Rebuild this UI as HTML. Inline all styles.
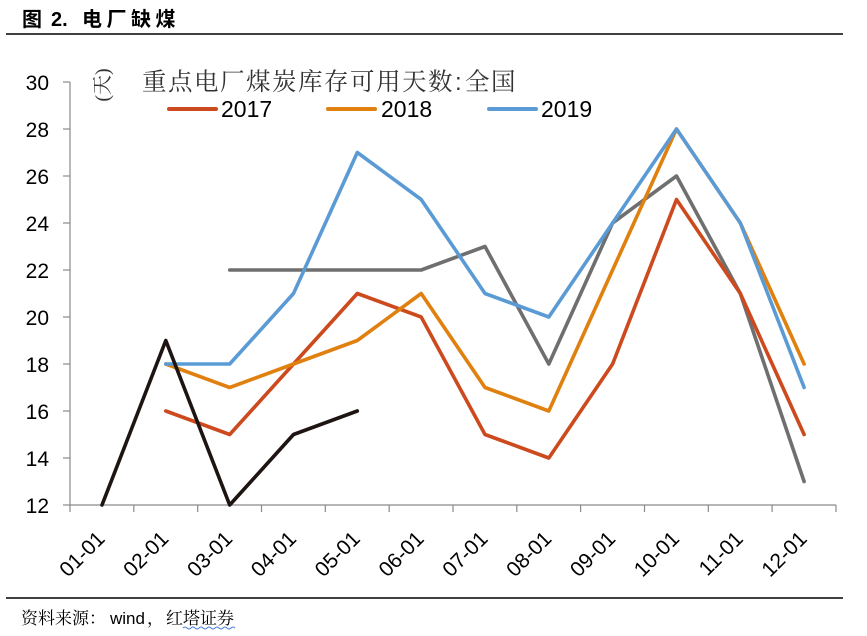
<!DOCTYPE html>
<html><head><meta charset="utf-8"><style>
html,body{margin:0;padding:0;background:#fff;}
svg{display:block;}
</style></head><body>
<svg width="867" height="636" viewBox="0 0 867 636" xmlns="http://www.w3.org/2000/svg">
<rect width="867" height="636" fill="#fff"/>
<!-- header -->
<text x="22" y="26" font-family="'Liberation Sans','Noto Sans CJK SC',sans-serif" font-weight="bold" font-size="20" fill="#000">图</text>
<text x="51" y="26" font-family="'Liberation Sans',sans-serif" font-weight="bold" font-size="20" fill="#000">2.</text>
<text x="82" y="26" font-family="'Liberation Sans','Noto Sans CJK SC',sans-serif" font-weight="bold" font-size="20" letter-spacing="4.5" fill="#000">电厂缺煤</text>
<line x1="6" y1="34" x2="843" y2="34" stroke="#000" stroke-width="1.5"/>

<!-- axes -->
<g stroke="#8a8a8a" stroke-width="1.2" fill="none">
<line x1="70" y1="82" x2="70" y2="505"/>
<line x1="70" y1="505" x2="836" y2="505"/>
<line x1="63" y1="82" x2="70" y2="82"/>
<line x1="63" y1="129" x2="70" y2="129"/>
<line x1="63" y1="176" x2="70" y2="176"/>
<line x1="63" y1="223" x2="70" y2="223"/>
<line x1="63" y1="270" x2="70" y2="270"/>
<line x1="63" y1="317" x2="70" y2="317"/>
<line x1="63" y1="364" x2="70" y2="364"/>
<line x1="63" y1="411" x2="70" y2="411"/>
<line x1="63" y1="458" x2="70" y2="458"/>
<line x1="63" y1="505" x2="70" y2="505"/>
<line x1="70" y1="505" x2="70" y2="512"/>
<line x1="133.8" y1="505" x2="133.8" y2="512"/>
<line x1="197.7" y1="505" x2="197.7" y2="512"/>
<line x1="261.5" y1="505" x2="261.5" y2="512"/>
<line x1="325.3" y1="505" x2="325.3" y2="512"/>
<line x1="389.2" y1="505" x2="389.2" y2="512"/>
<line x1="453" y1="505" x2="453" y2="512"/>
<line x1="516.8" y1="505" x2="516.8" y2="512"/>
<line x1="580.6" y1="505" x2="580.6" y2="512"/>
<line x1="644.5" y1="505" x2="644.5" y2="512"/>
<line x1="708.3" y1="505" x2="708.3" y2="512"/>
<line x1="772.1" y1="505" x2="772.1" y2="512"/>
<line x1="836" y1="505" x2="836" y2="512"/>
</g>

<!-- y labels -->
<g font-family="'Liberation Sans',sans-serif" font-size="21" fill="#000" text-anchor="end">
<text x="49" y="90">30</text>
<text x="49" y="137">28</text>
<text x="49" y="184">26</text>
<text x="49" y="231">24</text>
<text x="49" y="278">22</text>
<text x="49" y="325">20</text>
<text x="49" y="372">18</text>
<text x="49" y="419">16</text>
<text x="49" y="466">14</text>
<text x="49" y="513">12</text>
</g>

<!-- x labels -->
<g font-family="'Liberation Sans',sans-serif" font-size="21" fill="#000" text-anchor="end">
<text transform="translate(106,540) rotate(-45)">01-01</text>
<text transform="translate(169.8,540) rotate(-45)">02-01</text>
<text transform="translate(233.7,540) rotate(-45)">03-01</text>
<text transform="translate(297.5,540) rotate(-45)">04-01</text>
<text transform="translate(361.3,540) rotate(-45)">05-01</text>
<text transform="translate(425.2,540) rotate(-45)">06-01</text>
<text transform="translate(489,540) rotate(-45)">07-01</text>
<text transform="translate(552.8,540) rotate(-45)">08-01</text>
<text transform="translate(616.6,540) rotate(-45)">09-01</text>
<text transform="translate(680.5,540) rotate(-45)">10-01</text>
<text transform="translate(744.3,540) rotate(-45)">11-01</text>
<text transform="translate(808.1,540) rotate(-45)">12-01</text>
</g>

<!-- title / unit -->
<text transform="translate(109,85) rotate(-90)" text-anchor="middle" font-family="'Liberation Serif','Noto Serif CJK SC',serif" font-size="20" fill="#333">(天)</text>
<text x="142" y="90" font-family="'Noto Serif CJK SC','Noto Sans CJK SC',serif" font-size="24.5" letter-spacing="1.5" fill="#333">重点电厂煤炭库存可用天数</text>
<text x="455" y="90" font-family="'Liberation Sans',sans-serif" font-size="24" fill="#333">:</text>
<text x="465" y="90" font-family="'Noto Serif CJK SC','Noto Sans CJK SC',serif" font-size="24.5" letter-spacing="1.5" fill="#333">全国</text>

<!-- legend -->
<g stroke-width="4" stroke-linecap="round">
<line x1="169" y1="109" x2="216" y2="109" stroke="#CC4A1E"/>
<line x1="328" y1="109" x2="375" y2="109" stroke="#E0800F"/>
<line x1="489" y1="109" x2="536" y2="109" stroke="#5B9BD5"/>
</g>
<g font-family="'Liberation Sans',sans-serif" font-size="23" fill="#000">
<text x="221" y="117">2017</text>
<text x="381" y="117">2018</text>
<text x="541" y="117">2019</text>
</g>

<!-- series -->
<g fill="none" stroke-width="3.6" stroke-linejoin="round" stroke-linecap="round">
<polyline stroke="#6F6F6F" points="229.7,270 293.5,270 357.3,270 421.2,270 485,246.5 548.8,364 612.6,223 676.5,176 740.3,293.5 804.1,481.5"/>
<polyline stroke="#CC4A1E" points="165.8,411 229.7,434.5 293.5,364 357.3,293.5 421.2,317 485,434.5 548.8,458 612.6,364 676.5,199.5 740.3,293.5 804.1,434.5"/>
<polyline stroke="#E0800F" points="165.8,364 229.7,387.5 293.5,364 357.3,340.5 421.2,293.5 485,387.5 548.8,411 612.6,270 676.5,129 740.3,223 804.1,364"/>
<polyline stroke="#5B9BD5" points="165.8,364 229.7,364 293.5,293.5 357.3,152.5 421.2,199.5 485,293.5 548.8,317 612.6,223 676.5,129 740.3,223 804.1,387.5"/>
<polyline stroke="#1E1512" points="102,505 165.8,340.5 229.7,505 293.5,434.5 357.3,411"/>
</g>

<!-- footer -->
<line x1="6" y1="598" x2="843" y2="598" stroke="#000" stroke-width="1.5"/>
<text x="21" y="624" font-family="'Noto Serif CJK SC','Noto Sans CJK SC',serif" font-size="17" fill="#000">资料来源：</text>
<text x="110" y="624" font-family="'Liberation Sans',sans-serif" font-size="17" fill="#000">wind</text>
<text x="147" y="624" font-family="'Noto Serif CJK SC','Noto Sans CJK SC',serif" font-size="17" fill="#000">，</text>
<text x="166" y="624" font-family="'Noto Serif CJK SC','Noto Sans CJK SC',serif" font-size="17" fill="#000">红塔证券</text>
<path d="M183,628 q2,-2 4,0 t4,0 t4,0 t4,0 t4,0 t4,0 t4,0 t4,0 t4,0 t4,0 t4,0 t4,0 t4,0" fill="none" stroke="#4a7fd8" stroke-width="1"/>
</svg>
</body></html>
